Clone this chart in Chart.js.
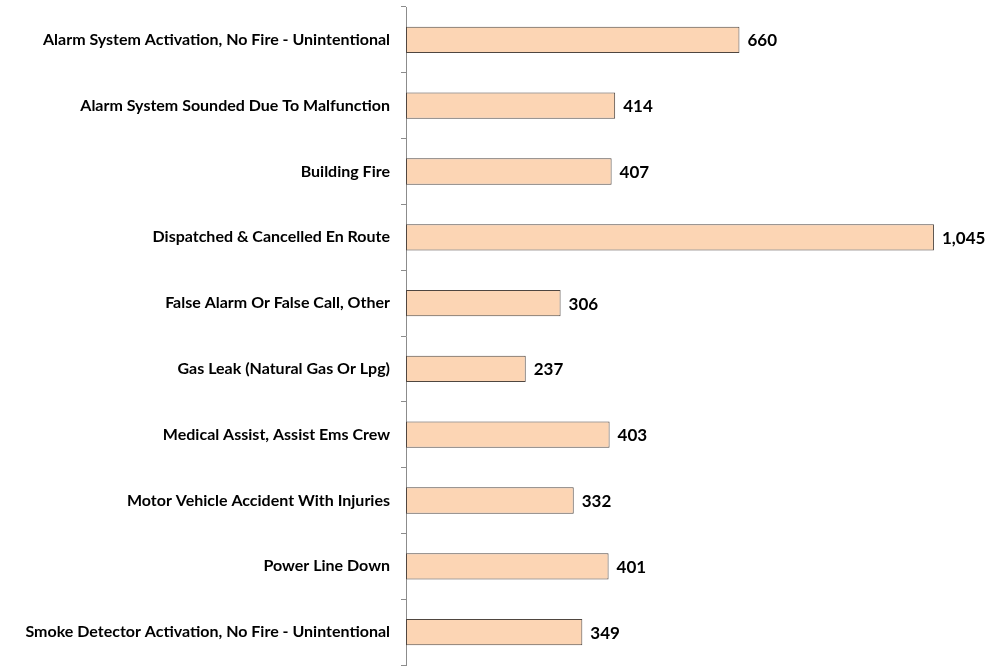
<!DOCTYPE html>
<html>
<head>
<meta charset="utf-8">
<script src="https://cdn.jsdelivr.net/npm/chart.js@4"></script>
<style>
  html, body { margin: 0; padding: 0; background: #fff; }
  #wrap { width: 987px; height: 668px; }
</style>
</head>
<body>
<div id="wrap"><canvas id="chart"></canvas></div>
<script>
const categories = [
  'Alarm System Activation, No Fire - Unintentional',
  'Alarm System Sounded Due To Malfunction',
  'Building Fire',
  'Dispatched & Cancelled En Route',
  'False Alarm Or False Call, Other',
  'Gas Leak (Natural Gas Or Lpg)',
  'Medical Assist, Assist Ems Crew',
  'Motor Vehicle Accident With Injuries',
  'Power Line Down',
  'Smoke Detector Activation, No Fire - Unintentional'
];
const counts = [660, 414, 407, 1045, 306, 237, 403, 332, 401, 349];

// draw the numbers at the end of each bar
const valueLabels = {
  id: 'valueLabels',
  afterDatasetsDraw(chart) {
    const ctx = chart.ctx;
    const meta = chart.getDatasetMeta(0);
    ctx.save();
    ctx.font = 'bold 17px Lato, "Open Sans", sans-serif';
    ctx.fillStyle = '#000';
    ctx.textAlign = 'left';
    ctx.textBaseline = 'middle';
    meta.data.forEach((bar, i) => {
      ctx.fillText(counts[i].toLocaleString('en-US'), bar.x + 8, bar.y + 1);
    });
    ctx.restore();
  }
};

new Chart(document.getElementById('chart'), {
  type: 'bar',
  data: {
    labels: categories,
    datasets: [{
      data: counts,
      backgroundColor: '#FCD5B4',
      borderColor: '#4f4640',
      borderWidth: 1,
      borderSkipped: false,
      categoryPercentage: 1,
      barPercentage: 0.4
    }]
  },
  options: {
    indexAxis: 'y',
    responsive: true,
    maintainAspectRatio: false,
    animation: false,
    layout: { padding: { top: 7, bottom: 3, left: 0, right: 0 } },
    plugins: {
      legend: { display: false },
      tooltip: { enabled: false }
    },
    scales: {
      x: {
        display: false,
        min: 0,
        max: 1150
      },
      y: {
        afterFit(scale) {
          scale.width = 406;
          scale.paddingTop = 0;
          scale.paddingBottom = 0;
        },
        border: { color: '#8c8c8c', width: 1 },
        grid: {
          drawOnChartArea: false,
          drawTicks: true,
          tickLength: 5,
          color: '#8c8c8c',
          offset: true
        },
        ticks: {
          color: '#000',
          padding: 11,
          font: { family: 'Lato, "Open Sans", sans-serif', size: 16, weight: 'bold' }
        }
      }
    }
  },
  plugins: [valueLabels]
});
</script>
</body>
</html>
